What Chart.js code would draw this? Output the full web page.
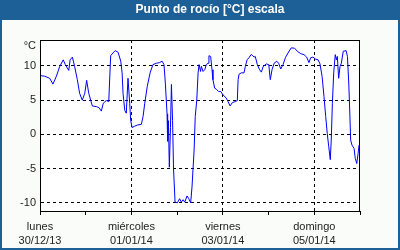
<!DOCTYPE html>
<html>
<head>
<meta charset="utf-8">
<script src="https://cdn.jsdelivr.net/npm/chart.js@4/dist/chart.umd.min.js"></script>
<style>
  html, body { margin: 0; padding: 0; background: #ffffff; }
  #wrap { width: 400px; height: 250px; }
</style>
</head>
<body>
<div id="wrap"><canvas id="dewChart" width="400" height="250"></canvas></div>
<script>
// hours since lunes 30/12/13 00:00
const hours = [
  0, 2.5, 5.1, 6.8, 8.6, 10.3, 12.2, 13.3, 15.1, 15.8, 17.0, 18.2, 19.6, 20.8, 22.2, 23.5,
  24.5, 25.6, 26.6, 27.5, 29.6, 31.0, 32.2, 33.2, 34.8, 36.1, 37.1, 38.3, 39.5, 41.0, 42.4,
  43.1, 43.6, 44.5, 45.3, 46.2, 47.1, 47.6, 48.3, 49.7, 51.1, 53.2, 54.1, 55.0, 56.3, 57.8,
  59.3, 61.1, 62.8, 64.1, 65.1, 65.8, 66.7, 67.0, 67.4, 67.9, 68.5, 69.0, 69.6, 70.1, 70.9,
  72.1, 73.3, 74.2, 75.1, 76.0, 77.2, 78.1, 79.1, 79.8, 80.9, 81.5, 82.3, 83.0, 83.5, 84.3,
  84.7, 85.6, 86.5, 87.3, 88.2, 88.7, 89.6, 90.3, 90.8, 91.7, 92.6, 93.8, 94.9, 96.1, 97.8,
  98.7, 99.8, 101.0, 102.5, 103.6, 104.0, 104.5, 105.7, 107.1, 107.8, 108.7, 109.7, 110.9,
  112.4, 113.0, 114.1, 115.3, 116.2, 117.2, 118.8, 120.1, 120.9, 121.8, 122.9, 124.3, 125.3,
  126.4, 127.6, 128.8, 130.2, 131.9, 133.7, 135.1, 136.9, 138.6, 140.0, 141.2, 142.1, 143.3,
  144.7, 146.0, 147.0, 148.1, 149.1, 150.0, 150.8, 151.6, 152.4, 152.9, 153.5, 154.2, 155.0,
  155.6, 156.1, 156.8, 157.5, 158.2, 159.2, 160.7, 161.4, 162.1, 162.6, 163.1, 163.8, 164.9,
  165.5, 166.3, 167.0, 167.5
];
const dewPoint = [
  8.6, 8.5, 8.2, 7.35, 8.5, 9.9, 10.9, 10.2, 9.35, 10.9, 11.3, 9.9, 8.0, 6.0, 5.0, 6.0,
  7.9, 6.0, 5.0, 4.15, 4.06, 3.9, 3.4, 4.55, 4.95, 4.8, 11.5, 11.9, 12.25, 12.0, 10.7,
  9.0, 6.0, 3.5, 3.1, 8.2, 4.55, 2.1, 1.0, 1.2, 1.37, 1.47, 2.6, 4.55, 7.0, 9.0,
  10.2, 10.4, 10.5, 10.7, 10.2, 7.5, 3.0, -1.0, 2.0, -4.8, 1.0, 7.3, 2.0, -5.0, -9.9,
  -10.0, -9.4, -9.9, -9.55, -9.9, -9.0, -9.4, -10.0, -7.7, -2.3, 2.6, 5.0, 9.0, 10.2, 9.2,
  9.94, 9.2, 9.45, 10.2, 10.4, 11.5, 11.4, 9.45, 8.0, 6.76, 6.6, 6.26, 6.26, 5.78, 5.3,
  4.8, 4.16, 4.65, 4.8, 4.95, 8.0, 8.8, 9.0, 9.0, 9.94, 10.9, 11.2, 11.7,
  11.3, 11.4, 10.2, 9.45, 9.1, 9.94, 10.3, 10.2, 8.0, 9.45, 10.4, 10.7, 10.4,
  9.56, 10.2, 11.2, 11.9, 12.65, 12.6, 12.15, 11.8, 11.66, 11.3, 10.5, 11.2, 11.3,
  11.0, 10.9, 10.3, 8.47, 5.5, 2.6, 0.15, -1.8, -3.7, -0.84, 4.55, 9.0, 11.66,
  10.9, 11.4, 8.2, 9.94, 10.4, 12.15, 12.25, 11.4, 7.5, 3.57, -0.84, -1.57, -2.06,
  -3.5, -4.26, -2.8, -1.57
];

const tickHours = [0, 48, 96, 144];
const tickDays = ["lunes", "miércoles", "viernes", "domingo"];
const tickDates = ["30/12/13", "01/01/14", "03/01/14", "05/01/14"];
const yTicks = [-10, -5, 0, 5, 10];

const BLUE = "#1d5f97";

// frame, header band, title, unit label and plot border
const framePlugin = {
  id: "frame",
  beforeDraw(chart) {
    const c = chart.ctx;
    const a = chart.chartArea;
    c.save();
    c.fillStyle = BLUE;
    c.fillRect(0, 0, chart.width, chart.height);
    c.fillStyle = "#fafcfa";
    c.fillRect(2, 20, chart.width - 4, chart.height - 22);
    c.fillStyle = "#ffffff";
    c.fillRect(a.left, a.top, a.right - a.left, a.bottom - a.top);
    c.fillStyle = "#ffffff";
    c.font = "bold 12px 'Liberation Sans'";
    c.textAlign = "center";
    c.textBaseline = "middle";
    c.fillText("Punto de rocío [°C] escala", 210, 10);
    c.restore();
  },
  afterDraw(chart) {
    const c = chart.ctx;
    const a = chart.chartArea;
    c.save();
    c.strokeStyle = "#000000";
    c.lineWidth = 1;
    c.strokeRect(Math.round(a.left) + 0.5, Math.round(a.top) + 0.5,
      Math.round(a.right - a.left) - 1, Math.round(a.bottom - a.top));
    c.fillStyle = "#222222";
    c.font = "11px 'Liberation Sans'";
    c.textAlign = "right";
    c.textBaseline = "middle";
    c.fillText("°C", a.left - 4, 46);
    c.restore();
  }
};

new Chart(document.getElementById("dewChart"), {
  type: "line",
  data: {
    datasets: [{
      data: hours.map((h, i) => ({ x: h, y: dewPoint[i] })),
      borderColor: "#0000ff",
      borderWidth: 1,
      pointRadius: 0,
      tension: 0,
      fill: false
    }]
  },
  options: {
    responsive: false,
    animation: false,
    layout: { padding: { left: 0, right: 40, top: 40, bottom: 0 } },
    plugins: {
      legend: { display: false },
      tooltip: { enabled: false },
      title: { display: false }
    },
    scales: {
      x: {
        type: "linear",
        min: 0,
        max: 168,
        afterFit: (s) => { s.height = 39; },
        ticks: {
          stepSize: 24,
          autoSkip: false,
          maxRotation: 0,
          padding: 5,
          color: "#222222",
          font: { family: "'Liberation Sans'", size: 11, lineHeight: 1.3 },
          callback: (v) => {
            const i = tickHours.indexOf(v);
            return i >= 0 ? [tickDays[i], tickDates[i]] : "";
          }
        },
        grid: {
          color: (ctx) => {
            const v = ctx.tick ? ctx.tick.value : 0;
            return (v > 0 && v < 168 && tickHours.includes(v)) ? "#000000" : "rgba(0,0,0,0)";
          },
          tickColor: "#000000",
          tickLength: 4,
          tickBorderDash: []
        },
        border: { display: true, color: "#000000", width: 1, dash: [3, 3] }
      },
      y: {
        min: -11.2,
        max: 13.8,
        afterFit: (s) => { s.width = 40; },
        afterBuildTicks: (s) => { s.ticks = yTicks.map(v => ({ value: v })); },
        ticks: {
          padding: 4,
          color: "#222222",
          font: { family: "'Liberation Sans'", size: 11 }
        },
        grid: {
          color: "#000000",
          drawTicks: false
        },
        border: { display: true, color: "#000000", width: 1, dash: [3, 3] }
      }
    }
  },
  plugins: [framePlugin]
});
</script>
</body>
</html>
